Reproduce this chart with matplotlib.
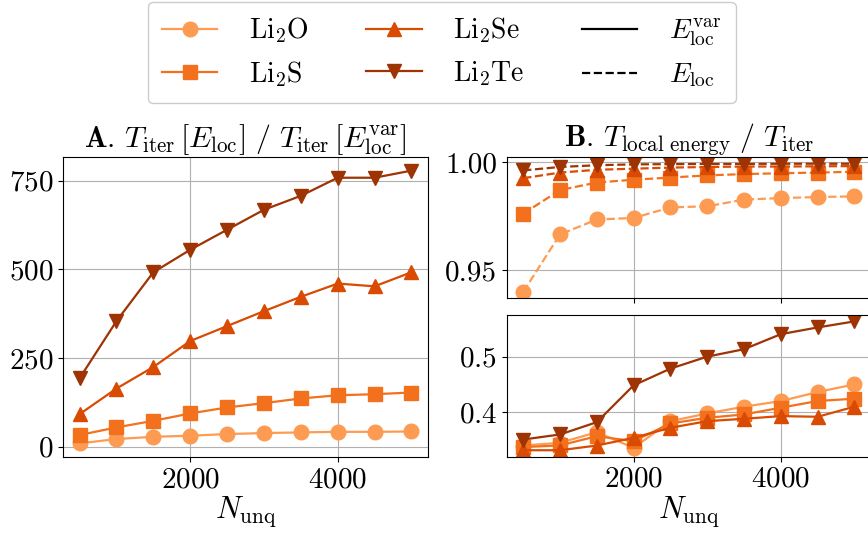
import numpy as np
import matplotlib
matplotlib.use("Agg")
import matplotlib.pyplot as plt
from matplotlib.lines import Line2D

plt.rcParams.update({
    "font.family": "serif",
    "font.serif": ["cmr10"],
    "mathtext.fontset": "cm",
    "axes.unicode_minus": False,
    "axes.formatter.use_mathtext": True,
    "font.size": 18,
    "xtick.labelsize": 21,
    "ytick.labelsize": 21,
})

# Number of unique configurations
n_unq = [500, 1000, 1500, 2000, 2500, 3000, 3500, 4000, 4500, 5000]

materials = ["Li$_2$O", "Li$_2$S", "Li$_2$Se", "Li$_2$Te"]
colors = ["#fd9b52", "#f3711c", "#d94a02", "#9e3304"]
markers = ["o", "s", "^", "v"]

# A: iteration time ratio T_iter[E_loc] / T_iter[E_loc^var]
speedup_li2o = [9.5, 21.6, 28, 31, 35.7, 38.5, 40.4, 42, 42, 43]
speedup_li2s = [33, 54.5, 73, 93.8, 110.7, 122.8, 136, 145, 148, 152.8]
speedup_li2se = [91.8, 164, 224.7, 297.8, 340, 382, 422.5, 459.8, 452, 491.6]
speedup_li2te = [193, 354, 491.6, 555, 611.5, 667.7, 707, 758, 758, 778]

# B: fraction of iteration time spent in local energy, with E_loc (dashed)
frac_eloc_li2o = [0.9400, 0.9666, 0.9735, 0.9742, 0.9791, 0.9796, 0.9827, 0.9834, 0.9839, 0.9842]
frac_eloc_li2s = [0.9762, 0.9871, 0.9906, 0.9919, 0.9929, 0.9939, 0.9945, 0.9949, 0.9952, 0.9956]
frac_eloc_li2se = [0.9926, 0.9952, 0.9965, 0.9970, 0.9975, 0.9978, 0.9980, 0.9980, 0.9981, 0.9982]
frac_eloc_li2te = [0.9962, 0.9978, 0.9986, 0.9990, 0.9991, 0.9992, 0.9992, 0.9993, 0.9993, 0.9993]

# B: fraction with E_loc^var (solid)
frac_var_li2o = [0.3398, 0.3447, 0.3638, 0.3356, 0.3837, 0.3976, 0.4098, 0.4199, 0.4362, 0.4500]
frac_var_li2s = [0.3370, 0.3400, 0.3566, 0.3476, 0.3796, 0.3898, 0.3958, 0.4080, 0.4200, 0.4242]
frac_var_li2se = [0.3313, 0.3313, 0.3398, 0.3537, 0.3718, 0.3837, 0.3880, 0.3928, 0.3916, 0.4098]
frac_var_li2te = [0.3506, 0.3597, 0.3819, 0.4483, 0.4784, 0.5000, 0.5134, 0.5405, 0.5526, 0.5635]

speedups = [speedup_li2o, speedup_li2s, speedup_li2se, speedup_li2te]
frac_eloc = [frac_eloc_li2o, frac_eloc_li2s, frac_eloc_li2se, frac_eloc_li2te]
frac_var = [frac_var_li2o, frac_var_li2s, frac_var_li2se, frac_var_li2te]

fig = plt.figure(figsize=(8.68, 5.34), dpi=100)
ax_a = fig.add_axes([0.0726, 0.1442, 0.4205, 0.5618])
ax_bt = fig.add_axes([0.5837, 0.4414, 0.4198, 0.2640])
ax_bb = fig.add_axes([0.5837, 0.1448, 0.4198, 0.2654])

style = dict(lw=1.6, ms=10.5)
for i in range(4):
    ax_a.plot(n_unq, speedups[i], color=colors[i], marker=markers[i], ls="-", **style)
    ax_bt.plot(n_unq, frac_eloc[i], color=colors[i], marker=markers[i], ls="--", **style)
    ax_bb.plot(n_unq, frac_var[i], color=colors[i], marker=markers[i], ls="-", **style)

for ax in (ax_a, ax_bt, ax_bb):
    ax.grid(True, color="#b0b0b0", lw=0.8)
    ax.set_axisbelow(True)
    ax.set_xticks([2000, 4000])

ax_a.set_yticks([0, 250, 500, 750])
ax_bt.set_yticks([0.95, 1.00])
ax_bt.set_yticklabels(["0.95", "1.00"])
ax_bb.set_yticks([0.4, 0.5])
ax_bt.tick_params(axis="x", labelbottom=False)

ax_a.set_xlabel(r"$N_\mathrm{unq}$", fontsize=22, labelpad=1)
ax_bb.set_xlabel(r"$N_\mathrm{unq}$", fontsize=22, labelpad=1)

ax_a.set_title(r"$\mathbf{A}$. $T_\mathrm{iter}\,[E_\mathrm{loc}]\ /\ T_\mathrm{iter}\,[E_\mathrm{loc}^\mathrm{var}]$",
               pad=4)
ax_bt.set_title(r"$\mathbf{B}$. $T_\mathrm{local\ energy}\ /\ T_\mathrm{iter}$", pad=4)

handles = [
    Line2D([], [], color=colors[0], marker=markers[0], ls="-", **style),
    Line2D([], [], color=colors[1], marker=markers[1], ls="-", **style),
    Line2D([], [], color=colors[2], marker=markers[2], ls="-", **style),
    Line2D([], [], color=colors[3], marker=markers[3], ls="-", **style),
    Line2D([], [], color="black", ls="-", lw=1.6),
    Line2D([], [], color="black", ls="--", lw=1.6),
]
labels = materials + [r"$E_\mathrm{loc}^\mathrm{var}$", r"$E_\mathrm{loc}$"]
fig.legend(handles, labels, ncol=3, loc="upper center", bbox_to_anchor=(0.509, 0.997),
           borderaxespad=0, fontsize=20, columnspacing=2.05, handlelength=2.0,
           handletextpad=1.15, labelspacing=0.5, borderpad=0.5, framealpha=1,
           edgecolor="#cccccc")

fig.savefig("out.png", dpi=100)
